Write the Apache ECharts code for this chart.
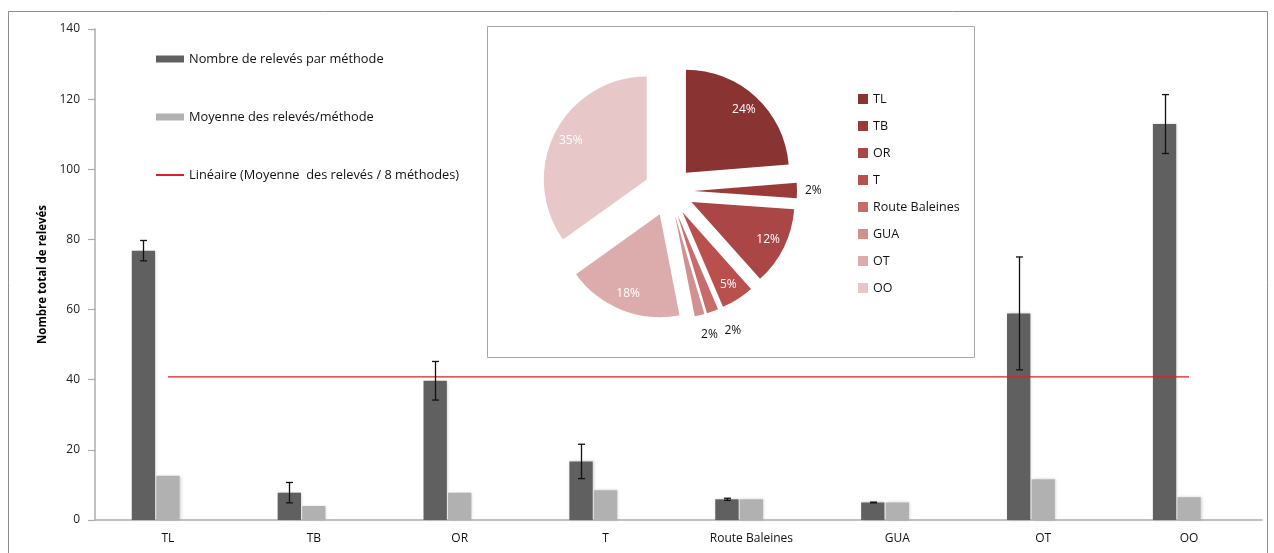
<!DOCTYPE html>
<html><head><meta charset="utf-8">
<script src="https://cdn.jsdelivr.net/npm/echarts@6/dist/echarts.min.js"></script>
<style>html,body{margin:0;padding:0;background:#fff}#c{width:1274px;height:553px}</style>
</head><body><div id="c"></div>
<script>
// ---- data ----
const categories = ['TL', 'TB', 'OR', 'T', 'Route Baleines', 'GUA', 'OT', 'OO'];
const countValues = [76.8, 7.8, 39.7, 16.7, 5.9, 5.0, 58.9, 112.9];
const countErrors = [2.9, 2.9, 5.5, 4.9, 0.3, 0.1, 16.1, 8.4];
const meanValues = [12.6, 4.0, 7.8, 8.5, 5.9, 5.0, 11.6, 6.5];
const overallMean = [40.8, 40.8, 40.8, 40.8, 40.8, 40.8, 40.8, 40.8];
const yMin = 0, yMax = 140, yStep = 20;

const NAME_COUNT = 'Nombre de relevés par méthode';
const NAME_MEAN = 'Moyenne des relevés/méthode';
const NAME_ALL = 'Moyenne des relevés / 8 méthodes';
const NAME_TREND = 'Linéaire (Moyenne  des relevés / 8 méthodes)';

// ---- styling ----
const FONT = 'Open Sans';
const BAR_FRAC = 0.16, BAR_GAP = 0.05;
const pieColors = ['#893433', '#9B3A39', '#AA4645', '#BA504E', '#C86C6B', '#D29190', '#DCACAC', '#E7C7C7'];
const total = countValues.reduce((a, b) => a + b, 0);

const mainPieData = categories.map((c, i) => {
  const small = countValues[i] / total < 0.03;
  return {
    name: c, value: countValues[i], selected: true,
    label: { show: small, position: 'outside' },
    labelLine: { length: i === 1 ? 3 : 20 }
  };
});
const labelPieData = categories.map((c, i) => {
  const small = countValues[i] / total < 0.03;
  return { name: c, value: countValues[i], selected: true, label: { show: !small } };
});

const chart = echarts.init(document.getElementById('c'), null, { renderer: 'canvas' });
chart.setOption({
  animation: false,
  textStyle: { fontFamily: FONT },
  graphic: [
    { type: 'rect', shape: { x: 8.5, y: 11.5, width: 1259, height: 560 }, style: { fill: 'none', stroke: '#8C8C8C', lineWidth: 1 }, z: -10 },
    { type: 'rect', shape: { x: 487.5, y: 26.5, width: 487, height: 331 }, style: { fill: '#fff', stroke: '#A6A6A6', lineWidth: 1 }, z: -5 }
  ],
  grid: { left: 95, right: 12, top: 29, bottom: 33, containLabel: false },
  legend: [
    {
      orient: 'vertical', left: 156, top: 51, padding: 0, itemWidth: 28, itemHeight: 7, itemGap: 42,
      textStyle: { fontFamily: FONT, fontSize: 12.8, color: '#111', lineHeight: 16 },
      selectedMode: false,
      data: [
        { name: NAME_COUNT, icon: 'rect' },
        { name: NAME_MEAN, icon: 'rect' },
        { name: NAME_TREND, icon: 'path://M0,0 L28,0 L28,2 L0,2 Z' }
      ]
    },
    {
      orient: 'vertical', left: 858, top: 91, padding: 0, itemWidth: 10, itemHeight: 10, itemGap: 11,
      icon: 'rect', selectedMode: false,
      textStyle: { fontFamily: FONT, fontSize: 12.5, color: '#111', lineHeight: 16 },
      data: categories
    }
  ],
  xAxis: {
    type: 'category', data: categories,
    axisLine: { lineStyle: { color: '#ACACAC', width: 1.5 } },
    axisTick: { show: false },
    axisLabel: { margin: 13, fontFamily: FONT, fontSize: 12, color: '#111' }
  },
  yAxis: {
    type: 'value', min: yMin, max: yMax, interval: yStep,
    name: 'Nombre total de relevés', nameLocation: 'middle', nameGap: 41, nameRotate: 90,
    nameTextStyle: { fontFamily: FONT, fontSize: 11.5, fontWeight: 'bold', color: '#000' },
    axisLine: { show: true, lineStyle: { color: '#ACACAC', width: 1.5 } },
    axisTick: { show: true, length: 7, lineStyle: { color: '#ACACAC', width: 1.2 } },
    axisLabel: { margin: 15, fontFamily: FONT, fontSize: 12, color: '#222' },
    splitLine: { show: false }
  },
  series: [
    {
      name: NAME_COUNT, type: 'bar', data: countValues,
      barWidth: (BAR_FRAC * 100) + '%', barGap: (BAR_GAP * 100) + '%',
      itemStyle: { color: '#606060', shadowColor: 'rgba(0,0,0,0.18)', shadowBlur: 3, shadowOffsetX: 1 },
      emphasis: { disabled: true }, z: 2
    },
    {
      name: NAME_MEAN, type: 'bar', data: meanValues,
      barWidth: (BAR_FRAC * 100) + '%', barGap: (BAR_GAP * 100) + '%',
      itemStyle: { color: '#B1B1B1', shadowColor: 'rgba(0,0,0,0.18)', shadowBlur: 3, shadowOffsetX: 1 },
      emphasis: { disabled: true }, z: 2
    },
    {
      name: NAME_ALL, type: 'bar', data: overallMean,
      barWidth: (BAR_FRAC * 100) + '%', barGap: (BAR_GAP * 100) + '%',
      itemStyle: { color: 'rgba(0,0,0,0)' }, silent: true, emphasis: { disabled: true }
    },
    {
      name: NAME_TREND, type: 'line', data: overallMean,
      symbol: 'none', lineStyle: { color: '#DC1F26', width: 1.3 },
      itemStyle: { color: '#DC1F26' }, silent: true, z: 4
    },
    {
      name: 'erreurs', type: 'custom', z: 5, silent: true,
      data: categories.map((c, i) => [i, countValues[i], countErrors[i]]),
      encode: { x: 0, y: 1 },
      renderItem: function (params, api) {
        const band = api.size([1, 0])[0];
        const off = -band * BAR_FRAC * (1 + BAR_GAP);
        const hi = api.coord([api.value(0), api.value(1) + api.value(2)]);
        const lo = api.coord([api.value(0), api.value(1) - api.value(2)]);
        const x = Math.round(hi[0] + off) + 0.5;
        const cap = 3.5;
        const st = { stroke: '#111', lineWidth: 1.3 };
        return {
          type: 'group', children: [
            { type: 'line', shape: { x1: x, y1: hi[1], x2: x, y2: lo[1] }, style: st },
            { type: 'line', shape: { x1: x - cap, y1: hi[1], x2: x + cap, y2: hi[1] }, style: st },
            { type: 'line', shape: { x1: x - cap, y1: lo[1], x2: x + cap, y2: lo[1] }, style: st }
          ]
        };
      }
    },
    {
      name: 'Répartition', type: 'pie', center: [669, 191], radius: [0, 103],
      startAngle: 90, clockwise: true, color: pieColors,
      selectedMode: 'multiple', selectedOffset: 25, avoidLabelOverlap: false,
      percentPrecision: 0, silent: true, z: 6,
      label: { formatter: '{d}%', fontFamily: FONT, fontSize: 12, color: '#111' },
      labelLine: { show: false, length: 20, length2: 0 },
      labelLayout: function (p) { return p.dataIndex === 5 ? { align: 'center' } : {}; },
      itemStyle: { borderWidth: 0 },
      select: { itemStyle: { borderWidth: 0 }, label: { color: '#111' } },
      emphasis: { disabled: true },
      data: mainPieData
    },
    {
      name: 'Étiquettes', type: 'pie', center: [669, 191], radius: [0, 165],
      startAngle: 90, clockwise: true,
      selectedMode: 'multiple', selectedOffset: 25, avoidLabelOverlap: false,
      percentPrecision: 0, silent: true, z: 7,
      itemStyle: { color: 'rgba(0,0,0,0)', borderWidth: 0 },
      select: { itemStyle: { color: 'rgba(0,0,0,0)', borderWidth: 0 }, label: { color: '#fff' } },
      label: { position: 'inside', formatter: '{d}%', fontFamily: FONT, fontSize: 12, color: '#fff' },
      labelLine: { show: false },
      emphasis: { disabled: true },
      data: labelPieData
    }
  ]
});
</script>
</body></html>
